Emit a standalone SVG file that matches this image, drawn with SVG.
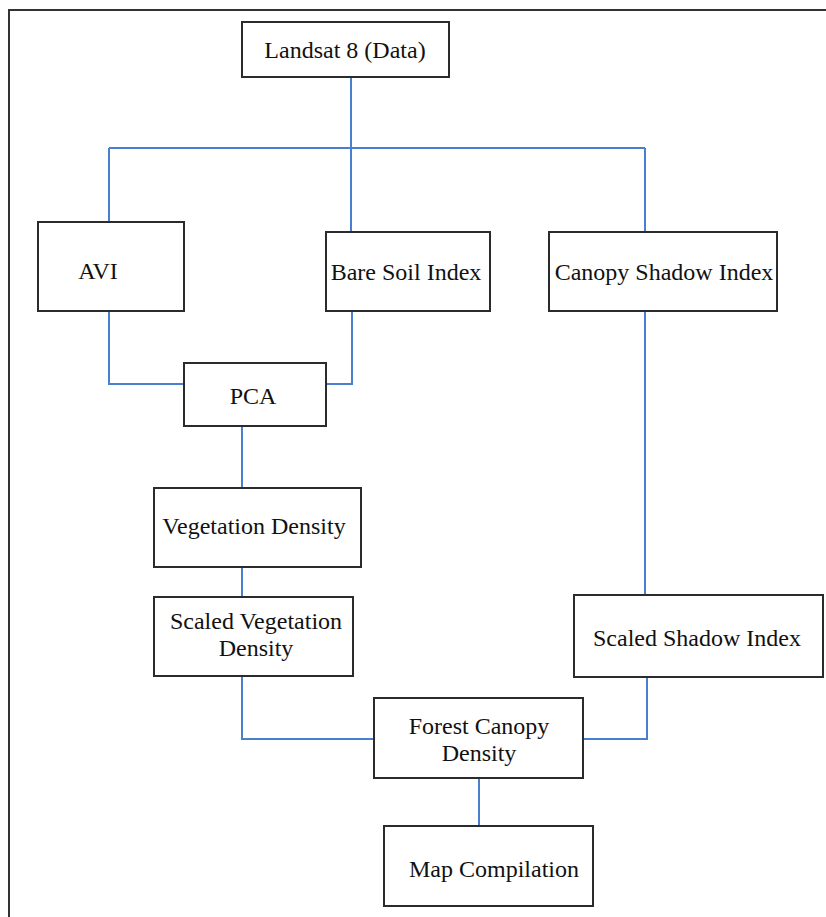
<svg xmlns="http://www.w3.org/2000/svg" width="826" height="917" viewBox="0 0 826 917">
<style>
.box{fill:#fff;stroke:#2b2b2b;stroke-width:2}
.lbl{font-family:"Liberation Serif","Times New Roman",serif;font-size:24px;fill:#111;text-anchor:middle}
.conn{fill:none;stroke:#4a7fcf;stroke-width:2}
</style>
<rect x="0" y="0" width="826" height="917" fill="#fff"/>
<rect x="9" y="10" width="830" height="920" fill="none" stroke="#333" stroke-width="2"/>
<g id="connectors">
<path class="conn" d="M351 77 V148 M109 148 H645 M109 148 V222 M351 148 V232 M645 148 V232"/>
<path class="conn" d="M109 311 V384 H184 M352 311 V384 H326"/>
<path class="conn" d="M242 426 V488 M242 567 V597"/>
<path class="conn" d="M645 311 V595"/>
<path class="conn" d="M242 676 V739 H374 M647 677 V739 H583"/>
<path class="conn" d="M479 778 V826"/>
</g>
<g id="landsat"><rect class="box" x="242" y="22" width="207" height="55"/><text class="lbl" x="345" y="58">Landsat 8 (Data)</text></g>
<g id="avi"><rect class="box" x="38" y="222" width="146" height="89"/><text class="lbl" x="98" y="279">AVI</text></g>
<g id="baresoil"><rect class="box" x="326" y="232" width="164" height="79"/><text class="lbl" x="406" y="280">Bare Soil Index</text></g>
<g id="canopyshadow"><rect class="box" x="549" y="232" width="228" height="79"/><text class="lbl" x="664" y="280">Canopy Shadow Index</text></g>
<g id="pca"><rect class="box" x="184" y="363" width="142" height="63"/><text class="lbl" x="253" y="404">PCA</text></g>
<g id="vegdensity"><rect class="box" x="154" y="488" width="207" height="79"/><text class="lbl" x="254" y="534">Vegetation Density</text></g>
<g id="scaledveg"><rect class="box" x="154" y="597" width="199" height="79"/><text class="lbl" x="256" y="629">Scaled Vegetation</text><text class="lbl" x="256" y="656">Density</text></g>
<g id="scaledshadow"><rect class="box" x="574" y="595" width="249" height="82"/><text class="lbl" x="697" y="646">Scaled Shadow Index</text></g>
<g id="fcd"><rect class="box" x="374" y="698" width="209" height="80"/><text class="lbl" x="479" y="734">Forest Canopy</text><text class="lbl" x="479" y="761">Density</text></g>
<g id="map"><rect class="box" x="384" y="826" width="209" height="80"/><text class="lbl" x="494" y="877">Map Compilation</text></g>
</svg>
